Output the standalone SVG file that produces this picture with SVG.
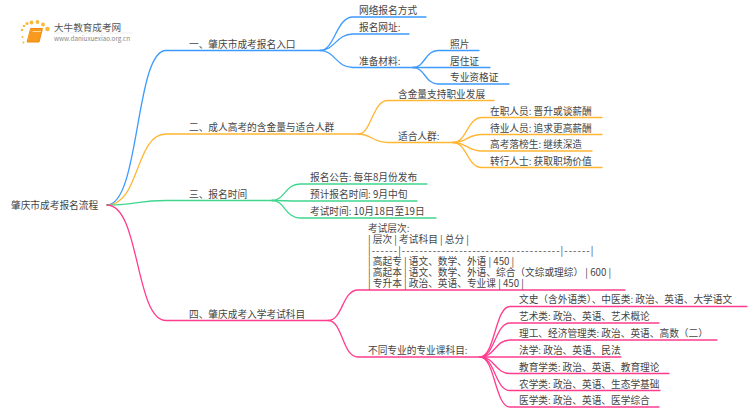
<svg xmlns="http://www.w3.org/2000/svg" width="750" height="410" viewBox="0 0 750 410">
<style>
text{font-family:"Noto Sans CJK SC",sans-serif;font-size:9.700px;fill:#444}
path{fill:none;stroke-width:1.3;stroke-linecap:round}
.b{stroke:#3d9bff}.o{stroke:#ffb733}.g{stroke:#41d690}.p{stroke:#ff3d8e}
</style>
<rect width="750" height="410" fill="#fff"/>
<g id="logo">
<g fill="#f9b93a"><circle cx="22" cy="30" r="1.3"/><circle cx="24" cy="26" r="1.3"/><circle cx="27" cy="23.500" r="1.5"/><circle cx="31.500" cy="22.500" r="1.900"/><circle cx="37.500" cy="22" r="1.900"/><circle cx="43" cy="24.500" r="2"/><circle cx="47.500" cy="29" r="2.300"/><circle cx="22.500" cy="37" r="1"/><circle cx="23.500" cy="42.500" r="1"/></g>
<path d="M31 28.500H42.500L39 42H27.500Z" style="fill:#f79a1e;stroke:#f08a10;stroke-width:1;stroke-linejoin:round"/>
<path d="M33 31.500H40.500" style="stroke:#ffd9a0;stroke-width:1"/>
<text x="54" y="30.500" style="font-size:9.600px;fill:#555">大牛教育成考网</text>
<path d="M54 33H132" style="stroke:#e8e8e8;stroke-width:.8"/>
<text x="54" y="40.500" style="font-size:6.300px;fill:#888">www.daniuxuexiao.org.cn</text>
</g>
<g id="connectors">
<path class="b" d="M107 205C140 205 135 50.500 166 50.500H320C335 50.500 336 17 353 17H426"/>
<path class="b" d="M320 50.500C335 50.500 336 34 353 34H409"/>
<path class="b" d="M320 50.500C335 50.500 336 67.500 353 67.500H413"/>
<path class="b" d="M413 67.500C425 67.500 425 50.500 438 50.500H479"/>
<path class="b" d="M413 67.500C425 67.500 425 67.500 438 67.500H490"/>
<path class="b" d="M413 67.500C425 67.500 425 84 438 84H509"/>
<path class="o" d="M107 205C140 205 135 134 166 134H358"/>
<path class="o" d="M358 134C372 134 372 100.500 388 100.500H494"/>
<path class="o" d="M358 134C372 134 372 142.500 388 142.500H453"/>
<path class="o" d="M453 142.500C467 142.500 467 117.500 482 117.500H602"/>
<path class="o" d="M453 142.500C467 142.500 467 134.500 482 134.500H602"/>
<path class="o" d="M453 142.500C467 142.500 467 151 482 151H592"/>
<path class="o" d="M453 142.500C467 142.500 467 167.500 482 167.500H602"/>
<path class="g" d="M107 205C140 205 135 200.500 166 200.500H272"/>
<path class="g" d="M272 200.500C285 200.500 285 184 300 184H427"/>
<path class="g" d="M272 200.500C285 200.500 285 201 300 201H417"/>
<path class="g" d="M272 200.500C285 200.500 285 218 300 218H436"/>
<path class="p" d="M107 205C140 205 135 320.500 166 320.500H328"/>
<path class="p" d="M328 320.500C343 320.500 342 290 358 290H625"/>
<path class="p" d="M328 320.500C343 320.500 342 357 358 357H480"/>
<path class="p" d="M480 357C495 357 495 306.500 510 306.500H747"/>
<path class="p" d="M480 357C495 357 495 323 510 323H659"/>
<path class="p" d="M480 357C495 357 495 340 510 340H717"/>
<path class="p" d="M480 357C495 357 495 357 510 357H621"/>
<path class="p" d="M480 357C495 357 495 373.500 510 373.500H669"/>
<path class="p" d="M480 357C495 357 495 390.500 510 390.500H660"/>
<path class="p" d="M480 357C495 357 495 407 510 407H659"/>
</g>
<g id="root"><text x="11" y="209">肇庆市成考报名流程</text></g>
<g id="n1"><text x="189" y="48">一、肇庆市成考报名入口</text></g>
<g id="n1-1"><text x="359" y="14">网络报名方式</text></g>
<g id="n1-2"><text x="359" y="31">报名网址:</text></g>
<g id="n1-3"><text x="359" y="64.500">准备材料:</text></g>
<g id="n1-3-1"><text x="450" y="47.500">照片</text></g>
<g id="n1-3-2"><text x="450" y="64.500">居住证</text></g>
<g id="n1-3-3"><text x="450" y="81">专业资格证</text></g>
<g id="n2"><text x="189" y="131">二、成人高考的含金量与适合人群</text></g>
<g id="n2-1"><text x="398" y="97.500">含金量支持职业发展</text></g>
<g id="n2-2"><text x="398" y="139.500">适合人群:</text></g>
<g id="n2-2-1"><text x="490" y="114.500">在职人员: 晋升或谈薪酬</text></g>
<g id="n2-2-2"><text x="490" y="131.500">待业人员: 追求更高薪酬</text></g>
<g id="n2-2-3"><text x="490" y="148">高考落榜生: 继续深造</text></g>
<g id="n2-2-4"><text x="490" y="164.500">转行人士: 获取职场价值</text></g>
<g id="n3"><text x="189" y="198">三、报名时间</text></g>
<g id="n3-1"><text x="310" y="181">报名公告: 每年8月份发布</text></g>
<g id="n3-2"><text x="310" y="198">预计报名时间: 9月中旬</text></g>
<g id="n3-3"><text x="310" y="215">考试时间: 10月18日至19日</text></g>
<g id="n4"><text x="189" y="318">四、肇庆成考入学考试科目</text></g>
<g id="n4-1">
<text x="368" y="231.500">考试层次:</text>
<text x="368" y="242.500">| 层次 | 考试科目 | 总分 |</text>
<text x="368" y="253.500" style="letter-spacing:1.050px">|------|------------------------------------|------|</text>
<text x="368" y="264.500">| 高起专 | 语文、数学、外语 | 450 |</text>
<text x="368" y="275.500">| 高起本 | 语文、数学、外语、综合（文综或理综） | 600 |</text>
<text x="368" y="286.500">| 专升本 | 政治、英语、专业课 | 450 |</text>
</g>
<g id="n4-2"><text x="368" y="354">不同专业的专业课科目:</text></g>
<g id="n4-2-1"><text x="519" y="303">文史（含外语类）、中医类: 政治、英语、大学语文</text></g>
<g id="n4-2-2"><text x="519" y="320">艺术类: 政治、英语、艺术概论</text></g>
<g id="n4-2-3"><text x="519" y="337">理工、经济管理类: 政治、英语、高数（二）</text></g>
<g id="n4-2-4"><text x="519" y="354">法学: 政治、英语、民法</text></g>
<g id="n4-2-5"><text x="519" y="370.500">教育学类: 政治、英语、教育理论</text></g>
<g id="n4-2-6"><text x="519" y="387.500">农学类: 政治、英语、生态学基础</text></g>
<g id="n4-2-7"><text x="519" y="404">医学类: 政治、英语、医学综合</text></g>
</svg>
